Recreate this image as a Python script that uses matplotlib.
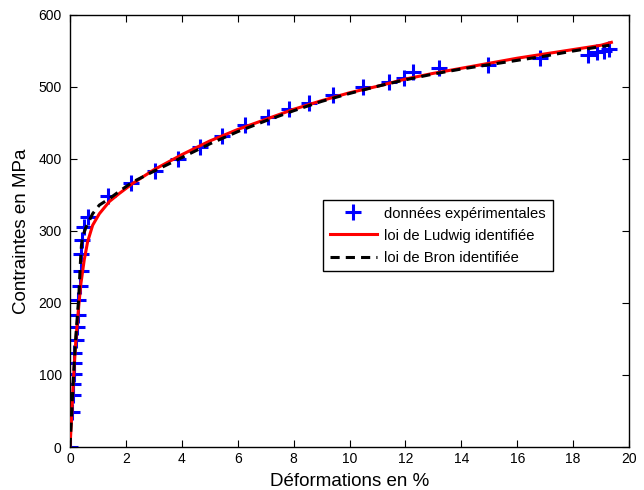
import matplotlib
matplotlib.use("Agg")
import matplotlib.pyplot as plt

plt.rcParams['font.family'] = ['Liberation Sans', 'DejaVu Sans']

# experimental points (strain %, stress MPa)
eps_exp = [0, 0.06, 0.1, 0.1, 0.16, 0.16, 0.16, 0.2, 0.24, 0.28, 0.3, 0.34,
           0.38, 0.41, 0.44, 0.5, 0.64, 1.35, 2.2, 3.04, 3.85, 4.65, 5.45,
           6.26, 7.07, 7.85, 8.55, 9.42, 10.49, 11.41, 11.95, 12.28, 13.21,
           14.94, 16.8, 18.55, 18.85, 19.1, 19.3]
sig_exp = [0, 48, 72, 87, 101, 116, 131, 148, 166, 184, 204, 224,
           245, 268, 287, 305, 320, 348, 366, 383, 400, 416, 432,
           447, 459, 470, 478, 489, 500, 507, 513, 521, 526,
           531, 540, 545, 548, 550, 553]

# Ludwig law
eps_lud = [0, 0.05, 0.1, 0.15, 0.21, 0.31, 0.39, 0.51, 0.63, 0.81, 1.05,
           1.41, 1.76, 2.24, 3.0, 4.0, 5.0, 6.0, 7.0, 8.0, 9.0, 10.0, 11.0,
           12.0, 13.0, 14.0, 15.0, 16.0, 17.0, 18.0, 19.0, 19.37]
sig_lud = [0, 35, 75, 112, 149, 195, 227, 260, 285, 308, 324,
           341, 352, 366, 385, 406, 425, 441, 455, 469, 481, 492, 501,
           511, 519, 526, 533, 540, 546, 552, 558, 562]

# Bron law
eps_bron = [0, 0.06, 0.1, 0.15, 0.2, 0.27, 0.31, 0.34, 0.38, 0.41, 0.45,
            0.57, 0.81, 1.05, 1.41, 1.76, 2.24, 3.0, 4.0, 5.0, 6.0, 7.0,
            8.0, 9.0, 10.0, 11.0, 12.0, 13.0, 14.0, 15.0, 16.0, 17.0, 18.0,
            19.3]
sig_bron = [0, 48, 80, 115, 148, 186, 205, 230, 262, 280, 292,
            305, 324, 336, 345, 355, 368, 383, 402, 421, 438, 453,
            467, 480, 491, 501, 510, 518, 525, 531, 537, 543, 550,
            558]

fig = plt.figure(figsize=(6.44, 4.90), dpi=100)
ax = fig.add_axes([70/644, 43/490, 559/644, 432/490])

ax.plot(eps_exp, sig_exp, '+', color='#0000ff', ms=12, mew=2.2,
        label='données expérimentales', zorder=2)
ax.plot(eps_lud, sig_lud, '-', color='#ff0000', lw=2.2,
        label='loi de Ludwig identifiée', zorder=3)
ax.plot(eps_bron, sig_bron, '--', color='black', lw=2.2, dashes=(3, 2),
        label='loi de Bron identifiée', zorder=4)

ax.set_xlim(0, 20)
ax.set_ylim(0, 600)
ax.set_xticks(range(0, 21, 2))
ax.set_yticks(range(0, 601, 100))
ax.tick_params(direction='in', top=True, right=True, length=5,
               labelsize=10, width=0.8)
ax.tick_params(axis='y', pad=6)
for s in ax.spines.values():
    s.set_linewidth(1.0)

ax.set_xlabel('Déformations en %', fontsize=13.5, labelpad=5)
ax.set_ylabel('Contraintes en MPa', fontsize=13.5, labelpad=6)

leg = ax.legend(loc='upper left', bbox_to_anchor=(0.453, 0.572),
                borderaxespad=0, fontsize=10.6, fancybox=False,
                framealpha=1, edgecolor='black', handlelength=3.2,
                borderpad=0.45, labelspacing=0.55, handletextpad=0.5)
leg.get_frame().set_linewidth(1.0)

fig.savefig('out.png', dpi=100)
